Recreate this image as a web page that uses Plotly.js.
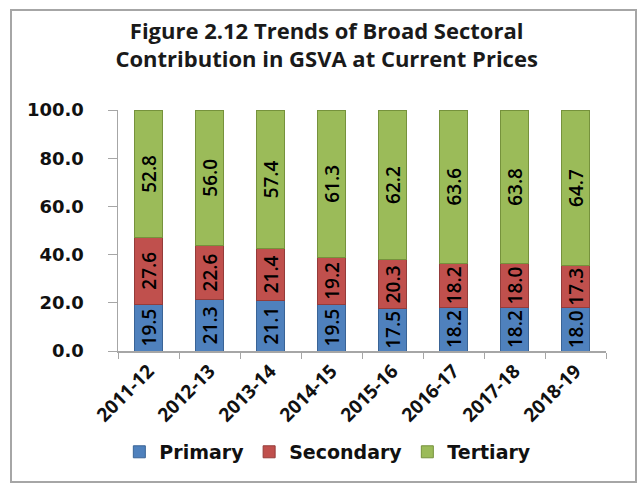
<!DOCTYPE html>
<html>
<head>
<meta charset="utf-8">
<script src="https://cdn.plot.ly/plotly-3.0.1.min.js"></script>
<style>
  html, body { margin: 0; padding: 0; background: #ffffff; }
  #wrap { position: relative; width: 643px; height: 486px; }
  #frame { position: absolute; left: 10px; top: 9px; width: 623px; height: 470px; border: 2px solid #a6a6a6; box-sizing: content-box; }
  #chart { position: absolute; left: 0; top: 0; width: 643px; height: 486px; }
</style>
</head>
<body>
<div id="wrap">
  <div id="frame"></div>
  <div id="chart"></div>
</div>
<script>
const years = ["2011-12", "2012-13", "2013-14", "2014-15", "2015-16", "2016-17", "2017-18", "2018-19"];
const primary = [19.5, 21.3, 21.1, 19.5, 17.5, 18.2, 18.2, 18.0];
const secondary = [27.6, 22.6, 21.4, 19.2, 20.3, 18.2, 18.0, 17.3];
const tertiary = [52.8, 56.0, 57.4, 61.3, 62.2, 63.6, 63.8, 64.7];
const yTicks = [0, 20, 40, 60, 80, 100];

const labelFont = { family: "'Open Sans', Lato, sans-serif", size: 19, color: "#000000", weight: 600 };

function series(name, values, fill, edge) {
  return {
    type: "bar",
    name: name,
    x: years,
    y: values,
    marker: { color: fill, line: { color: edge, width: 1 } },
    text: values.map(v => v.toFixed(1)),
    texttemplate: "%{text}",
    textposition: "inside",
    insidetextanchor: "middle",
    textangle: -90,
    textfont: labelFont,
    constraintext: "none",
    hoverinfo: "x+y+name"
  };
}

const data = [
  series("Primary", primary, "#4f81bd", "#3a6496"),
  series("Secondary", secondary, "#c0504d", "#943c3a"),
  series("Tertiary", tertiary, "#9bbb59", "#76923c")
];

const layout = {
  width: 643,
  height: 486,
  barmode: "stack",
  bargap: 0.54,
  paper_bgcolor: "rgba(0,0,0,0)",
  plot_bgcolor: "rgba(0,0,0,0)",
  margin: { l: 118, r: 37, t: 110, b: 135 },
  title: {
    text: "<b>Figure 2.12 Trends of Broad Sectoral<br>Contribution in GSVA at Current Prices</b>",
    x: 0.508, xanchor: "center",
    y: 0.92, yanchor: "top",
    font: { family: "'Open Sans', Lato, sans-serif", size: 22, color: "#1a1a1a" }
  },
  xaxis: {
    type: "category",
    tickangle: -45,
    tickson: "boundaries",
    ticks: "outside",
    ticklen: 6,
    tickcolor: "#a6a6a6",
    showline: true,
    linecolor: "#a6a6a6",
    linewidth: 1.5,
    showgrid: false,
    tickfont: { family: "'Open Sans', Lato, sans-serif", size: 19, color: "#111111", weight: "bold" }
  },
  yaxis: {
    range: [0, 100],
    tickvals: yTicks,
    ticktext: yTicks.map(v => v.toFixed(1)),
    ticks: "outside",
    ticklen: 9,
    tickcolor: "#a6a6a6",
    ticklabelstandoff: 20,
    showline: true,
    linecolor: "#a6a6a6",
    linewidth: 1.5,
    showgrid: false,
    zeroline: false,
    tickfont: { family: "'DejaVu Sans', Verdana, sans-serif", size: 18, color: "#111111", weight: "bold" }
  },
  legend: {
    orientation: "h",
    x: 0.43, xanchor: "center",
    y: -0.34, yanchor: "top",
    font: { family: "'DejaVu Sans', Verdana, sans-serif", size: 19, color: "#111111", weight: "bold" },
    itemwidth: 30,
    traceorder: "normal"
  },
  showlegend: true
};

Plotly.newPlot("chart", data, layout, { displayModeBar: false, staticPlot: true });
</script>
</body>
</html>
